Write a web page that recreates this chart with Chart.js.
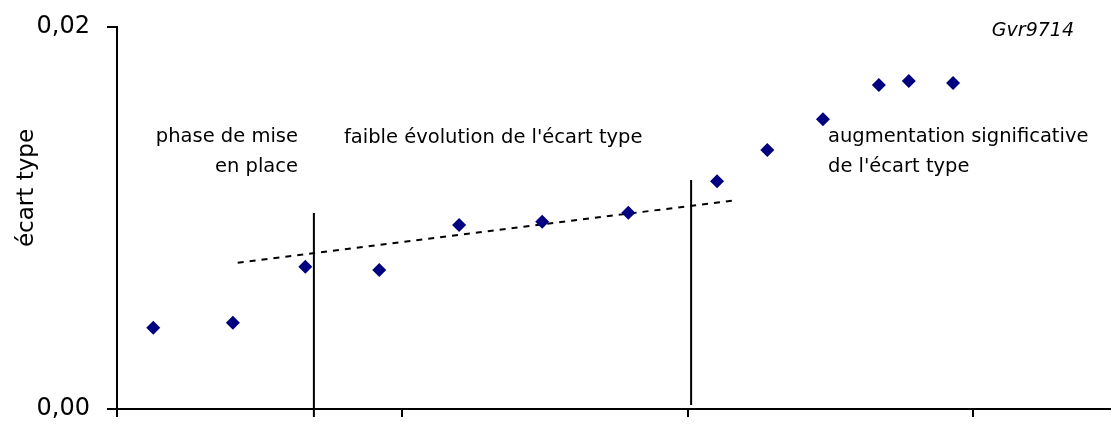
<!DOCTYPE html>
<html>
<head>
<meta charset="utf-8">
<script src="https://cdn.jsdelivr.net/npm/chart.js@4"></script>
<style>
  html, body { margin: 0; padding: 0; background: #fff; }
  #wrap { width: 1111px; height: 425px; }
</style>
</head>
<body>
<div id="wrap"><canvas id="ecartChart" width="1111" height="425"></canvas></div>
<script>
// position of each sample and its standard deviation
const sampleX = [0.127, 0.406, 0.660, 0.919, 1.199, 1.490, 1.792, 2.103, 2.279, 2.474, 2.670, 2.775, 2.930];
const ecartType = [0.00426, 0.00452, 0.00745, 0.00728, 0.00963, 0.00981, 0.01028, 0.01192, 0.01356, 0.01517, 0.01696, 0.01717, 0.01707];

// linear trend over the middle phase
const trendX = [0.423, 2.172];
const trendY = [0.00766, 0.01094];

// phase boundaries (vertical lines)
const boundaryX = [0.690, 2.012];
const boundaryTop = [0.01026, 0.01199];
const boundaryBottom = [-0.00042, 0.00021];

const yTicks = [0, 0.02];
const xTicks = [0, 1, 2, 3];

const phaseText = [
  ['phase de mise', 'en place'],
  ["faible évolution de l'écart type"],
  ['augmentation significative', "de l'écart type"]
];
const yTitle = 'écart type';
const seriesName = 'Gvr9714';

const FONT = '"DejaVu Sans", sans-serif';

const points = sampleX.map((x, i) => ({ x: x, y: ecartType[i] }));
const trend = trendX.map((x, i) => ({ x: x, y: trendY[i] }));
const boundaries = boundaryX.map((x, i) => ({
  data: [{ x: x, y: boundaryTop[i] }, { x: x, y: boundaryBottom[i] }],
  showLine: true,
  borderColor: '#000',
  borderWidth: 2,
  pointRadius: 0,
  clip: false
}));

// free text drawn on top of the plot
const textPlugin = {
  id: 'phaseText',
  afterDraw(chart) {
    const ctx = chart.ctx;
    ctx.save();
    ctx.fillStyle = '#000';
    ctx.font = '19.5px ' + FONT;
    ctx.textBaseline = 'alphabetic';

    ctx.textAlign = 'right';
    phaseText[0].forEach((t, i) => ctx.fillText(t, 298, 142 + i * 30));

    ctx.textAlign = 'left';
    phaseText[1].forEach((t, i) => ctx.fillText(t, 344, 143 + i * 30));
    phaseText[2].forEach((t, i) => ctx.fillText(t, 828, 142 + i * 30));

    ctx.font = 'italic 19px ' + FONT;
    ctx.textAlign = 'right';
    ctx.fillText(seriesName, 1074, 36);

    ctx.font = '23px ' + FONT;
    ctx.textAlign = 'center';
    ctx.translate(33, 188);
    ctx.rotate(-Math.PI / 2);
    ctx.fillText(yTitle, 0, 0);
    ctx.restore();
  }
};

new Chart(document.getElementById('ecartChart'), {
  type: 'scatter',
  data: {
    datasets: [
      {
        data: points,
        pointStyle: 'rectRot',
        pointRadius: 7,
        pointBorderWidth: 0,
        backgroundColor: '#000080',
        borderColor: '#000080'
      },
      {
        data: trend,
        showLine: true,
        borderColor: '#000',
        borderWidth: 2,
        borderDash: [6, 6],
        pointRadius: 0
      },
      ...boundaries
    ]
  },
  options: {
    responsive: false,
    animation: false,
    layout: { autoPadding: false, padding: { top: 27, right: 1, left: 0, bottom: 0 } },
    plugins: {
      legend: { display: false },
      tooltip: { enabled: false }
    },
    scales: {
      x: {
        type: 'linear',
        min: 0,
        max: 3.48,
        afterBuildTicks: (scale) => { scale.ticks = xTicks.map(v => ({ value: v })); },
        afterFit: (scale) => {
          scale.height = 16;
          scale.paddingLeft = 0;
          scale.paddingRight = 0;
        },
        ticks: { callback: () => '' },
        grid: { drawOnChartArea: false, tickLength: 8, color: '#000', lineWidth: 2 },
        border: { color: '#000', width: 2 }
      },
      y: {
        min: 0,
        max: 0.02,
        afterBuildTicks: (scale) => { scale.ticks = yTicks.map(v => ({ value: v })); },
        afterFit: (scale) => {
          scale.width = 117;
          scale.paddingTop = 0;
          scale.paddingBottom = 0;
        },
        ticks: {
          padding: 17,
          color: '#000',
          font: { family: FONT, size: 24 },
          callback: (v) => v.toFixed(2).replace('.', ',')
        },
        grid: { drawOnChartArea: false, tickLength: 10, color: '#000', lineWidth: 2 },
        border: { color: '#000', width: 2 }
      }
    }
  },
  plugins: [textPlugin]
});
</script>
</body>
</html>
